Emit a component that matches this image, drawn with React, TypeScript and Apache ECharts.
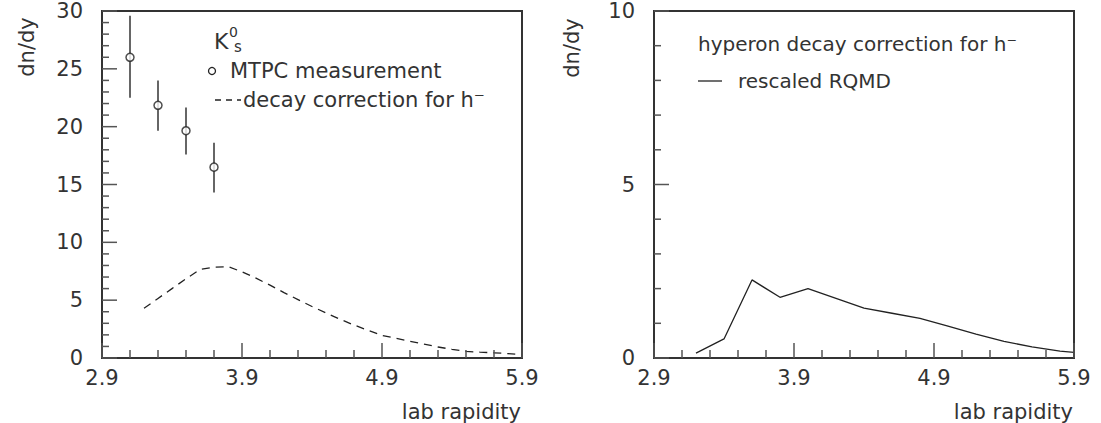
import React, { useEffect, useRef } from "react";
import * as echarts from "echarts";

// ---- data ----
const xTicks = [2.9, 3.9, 4.9, 5.9];
const xMinorTicks = [3.1, 3.3, 3.5, 3.7, 4.1, 4.3, 4.5, 4.7, 5.1, 5.3, 5.5, 5.7];
const leftYTicks = [0, 5, 10, 15, 20, 25, 30];
const leftYMinorTicks = [1, 2, 3, 4, 6, 7, 8, 9, 11, 12, 13, 14, 16, 17, 18, 19, 21, 22, 23, 24, 26, 27, 28, 29];
const rightYTicks = [0, 5, 10];
const rightYMinorTicks = [1, 2, 3, 4, 6, 7, 8, 9];

const kRapidity = [3.1, 3.3, 3.5, 3.7];
const kDndy = [26.0, 21.85, 19.65, 16.5];
const kErrLow = [22.5, 19.65, 17.6, 14.3];
const kErrHigh = [29.6, 24.0, 21.65, 18.6];

const decayRapidity = [3.2, 3.3, 3.4, 3.5, 3.6, 3.7, 3.8, 3.9, 4.0, 4.1, 4.2, 4.3, 4.4, 4.5, 4.6, 4.7, 4.8, 4.9, 5.0, 5.1, 5.2, 5.3, 5.4, 5.5, 5.6, 5.7, 5.8, 5.9];
const decayDndy = [4.3, 5.15, 6.0, 6.85, 7.65, 7.85, 7.9, 7.45, 6.9, 6.3, 5.65, 5.05, 4.45, 3.9, 3.35, 2.85, 2.4, 1.95, 1.7, 1.45, 1.2, 0.95, 0.75, 0.58, 0.5, 0.45, 0.38, 0.3];

const rqmdRapidity = [3.2, 3.4, 3.6, 3.8, 4.0, 4.2, 4.4, 4.6, 4.8, 5.0, 5.2, 5.4, 5.6, 5.8, 5.9];
const rqmdDndy = [0.14, 0.55, 2.25, 1.75, 2.0, 1.72, 1.44, 1.29, 1.14, 0.92, 0.69, 0.48, 0.32, 0.2, 0.16];

const leftYMax = 30;
const rightYMax = 10;

const FONT = "DejaVu Sans";
const TXT = "#333";
const TICK = "#555";

function buildOption() {
  const xAxisBase = (gridIndex: number) => ({
    type: "value",
    gridIndex,
    min: xTicks[0],
    max: xTicks[xTicks.length - 1],
    interval: 1,
    axisLine: { show: true, lineStyle: { color: "#333", width: 2 } },
    axisTick: { show: false },
    minorTick: { show: false },
    splitLine: { show: false },
    axisLabel: { margin: 9, fontFamily: FONT, fontSize: 21, color: TXT, formatter: (v: number) => v.toFixed(1) },
  });
  const yAxisBase = (gridIndex: number, max: number) => ({
    type: "value",
    gridIndex,
    min: 0,
    max,
    interval: 5,
    axisLine: { show: true, lineStyle: { color: "#333", width: 2 } },
    axisTick: { show: false },
    minorTick: { show: false },
    splitLine: { show: false },
    axisLabel: { margin: 19, fontFamily: FONT, fontSize: 21, color: TXT },
  });

  return {
    animation: false,
    grid: [
      { left: 102, top: 11, width: 420, height: 347, show: true, borderColor: "#333", borderWidth: 2 },
      { left: 654, top: 11, width: 420, height: 347, show: true, borderColor: "#333", borderWidth: 2 },
    ],
    xAxis: [xAxisBase(0), xAxisBase(1)],
    yAxis: [yAxisBase(0, leftYMax), yAxisBase(1, rightYMax)],
    series: [
      {
        type: "custom",
        xAxisIndex: 0,
        yAxisIndex: 0,
        data: kRapidity.map((x, i) => [x, kErrLow[i], kErrHigh[i]]),
        renderItem: (params: any, api: any) => {
          const p1 = api.coord([api.value(0), api.value(1)]);
          const p2 = api.coord([api.value(0), api.value(2)]);
          return {
            type: "line",
            shape: { x1: p1[0], y1: p1[1], x2: p2[0], y2: p2[1] },
            style: { stroke: "#666", lineWidth: 2 },
          };
        },
      },
      {
        type: "scatter",
        xAxisIndex: 0,
        yAxisIndex: 0,
        symbol: "circle",
        symbolSize: 8,
        itemStyle: { color: "#fff", borderColor: "#222", borderWidth: 1.5 },
        data: kRapidity.map((x, i) => [x, kDndy[i]]),
      },
      {
        type: "line",
        xAxisIndex: 0,
        yAxisIndex: 0,
        showSymbol: false,
        lineStyle: { color: "#222", width: 1.3, type: [8, 6] },
        data: decayRapidity.map((x, i) => [x, decayDndy[i]]),
      },
      {
        type: "line",
        xAxisIndex: 1,
        yAxisIndex: 1,
        showSymbol: false,
        lineStyle: { color: "#222", width: 1.3 },
        data: rqmdRapidity.map((x, i) => [x, rqmdDndy[i]]),
      },
    ],
  };
}

function legendGraphics() {
  const ts = (extra: any) => ({ fontFamily: FONT, fill: TXT, ...extra });
  return [
    { type: "text", x: 27, y: 47, rotation: Math.PI / 2, style: ts({ text: "dn/dy", fontSize: 21, textAlign: "center", textVerticalAlign: "middle" }) },
    { type: "text", x: 572, y: 48, rotation: Math.PI / 2, style: ts({ text: "dn/dy", fontSize: 21, textAlign: "center", textVerticalAlign: "middle" }) },
    { type: "text", x: 521, y: 412, style: ts({ text: "lab rapidity", fontSize: 21, textAlign: "right", textVerticalAlign: "middle" }) },
    { type: "text", x: 1073, y: 412, style: ts({ text: "lab rapidity", fontSize: 21, textAlign: "right", textVerticalAlign: "middle" }) },
    { type: "text", x: 214, y: 41, style: ts({ text: "K", fontSize: 22, textAlign: "left", textVerticalAlign: "middle" }) },
    { type: "text", x: 229, y: 32, style: ts({ text: "0", fontSize: 14, textAlign: "left", textVerticalAlign: "middle" }) },
    { type: "text", x: 234, y: 47, style: ts({ text: "s", fontSize: 15, textAlign: "left", textVerticalAlign: "middle" }) },
    { type: "circle", shape: { cx: 212, cy: 71, r: 3.5 }, style: { fill: "#fff", stroke: "#222", lineWidth: 1.3 } },
    { type: "text", x: 230, y: 71, style: ts({ text: "MTPC measurement", fontSize: 21, textAlign: "left", textVerticalAlign: "middle" }) },
    { type: "line", shape: { x1: 215, y1: 100, x2: 241, y2: 100 }, style: { stroke: "#222", lineWidth: 1.3, lineDash: [6, 5] } },
    { type: "text", x: 243, y: 100, style: ts({ text: "decay correction for h\u207B", fontSize: 21, textAlign: "left", textVerticalAlign: "middle" }) },
    { type: "text", x: 698, y: 44, style: ts({ text: "hyperon decay correction for h\u207B", fontSize: 20, textAlign: "left", textVerticalAlign: "middle" }) },
    { type: "line", shape: { x1: 698, y1: 81, x2: 722, y2: 81 }, style: { stroke: "#222", lineWidth: 1.3 } },
    { type: "text", x: 738, y: 81, style: ts({ text: "rescaled RQMD", fontSize: 20, textAlign: "left", textVerticalAlign: "middle" }) },
  ];
}

// tick marks placed through the chart's own axis scales (convertToPixel)
function tickGraphics(chart: any, gridIndex: number, yMajor: number[], yMinor: number[]) {
  const finder = { xAxisIndex: gridIndex, yAxisIndex: gridIndex };
  const out: any[] = [];
  const line = (x1: number, y1: number, x2: number, y2: number) => ({
    type: "line",
    silent: true,
    z: 50,
    shape: { x1, y1, x2, y2 },
    style: { stroke: TICK, lineWidth: 1.5 },
  });
  const xTick = (v: number, len: number) => {
    const p = chart.convertToPixel(finder, [v, 0]);
    if (p) out.push(line(p[0], p[1], p[0], p[1] - len));
  };
  const yTick = (v: number, len: number) => {
    const p = chart.convertToPixel(finder, [xTicks[0], v]);
    if (p) out.push(line(p[0], p[1], p[0] + len, p[1]));
  };
  xTicks.forEach((v) => xTick(v, 15));
  xMinorTicks.forEach((v) => xTick(v, 8));
  yMajor.forEach((v) => yTick(v, 15));
  yMinor.forEach((v) => yTick(v, 7));
  return out;
}

function Chart() {
  const ref = useRef<HTMLDivElement>(null);
  useEffect(() => {
    const chart = echarts.init(ref.current!, undefined, { renderer: "svg" });
    chart.setOption(buildOption());
    const ticks = [
      ...tickGraphics(chart, 0, leftYTicks, leftYMinorTicks),
      ...tickGraphics(chart, 1, rightYTicks, rightYMinorTicks),
    ];
    chart.setOption({ graphic: [...legendGraphics(), ...ticks] });
    return () => chart.dispose();
  }, []);
  return <div ref={ref} style={{ width: 1101, height: 423 }} />;
}

export default function App() {
  useEffect(() => {
    document.body.style.margin = "0";
  }, []);
  return <Chart />;
}
